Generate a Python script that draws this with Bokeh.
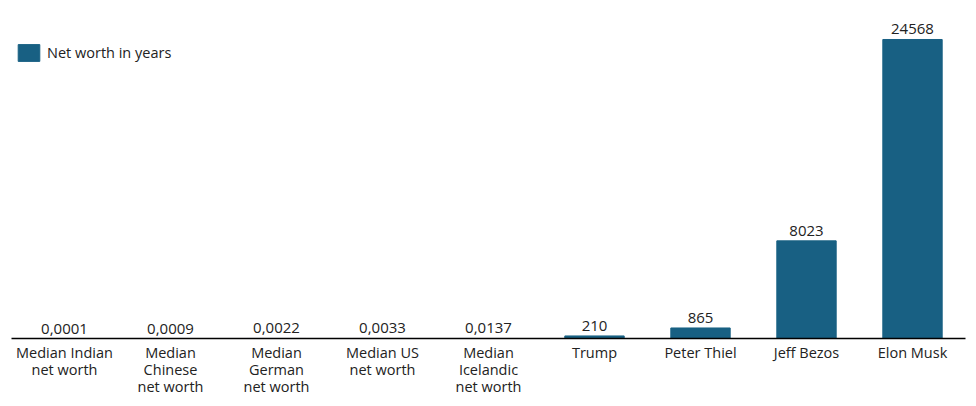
from bokeh.plotting import figure
from bokeh.models import ColumnDataSource, LabelSet, Legend, LegendItem
from bokeh.core.properties import value
from bokeh.embed import file_html
from bokeh.resources import INLINE

categories = ["Median Indian\nnet worth", "Median\nChinese\nnet worth", "Median\nGerman\nnet worth",
              "Median US\nnet worth", "Median\nIcelandic\nnet worth", "Trump", "Peter Thiel",
              "Jeff Bezos", "Elon Musk"]
values = [0.0001, 0.0009, 0.0022, 0.0033, 0.0137, 210, 865, 8023, 24568]
value_labels = ["0,0001", "0,0009", "0,0022", "0,0033", "0,0137", "210", "865", "8023", "24568"]

FONT = "Open Sans"
COLOR = "#186083"

src = ColumnDataSource(dict(x=categories, top=values, lab=value_labels))

p = figure(x_range=categories, y_range=(0, 26293), frame_width=954, frame_height=320,
           output_backend="svg", toolbar_location=None,
           min_border_left=11, min_border_right=3, min_border_top=18, min_border_bottom=0)
r = p.vbar(x="x", top="top", width=0.56, color=COLOR, source=src)

labels = LabelSet(x="x", y="top", text="lab", source=src, text_align="center",
                  text_baseline="bottom", y_offset=5, text_font=value(FONT),
                  text_font_size="15px", text_color="#222222")
p.add_layout(labels)

p.yaxis.visible = False
p.xgrid.visible = False
p.ygrid.visible = False
p.outline_line_color = None
p.xaxis.axis_line_color = "black"
p.xaxis.axis_line_width = 1.5
p.xaxis.major_tick_line_color = None
p.xaxis.minor_tick_line_color = None
p.xaxis.major_tick_out = 0
p.xaxis.major_label_text_font = FONT
p.xaxis.major_label_text_font_size = "14.5px"
p.xaxis.major_label_text_color = "#222222"
p.xaxis.major_label_text_line_height = 0.92
p.xaxis.major_label_standoff = 4

legend = Legend(items=[LegendItem(label="Net worth in years", renderers=[r])],
                location="top_left", border_line_color=None, background_fill_alpha=0,
                label_text_font=FONT, label_text_font_size="14.5px", label_text_color="#222222",
                glyph_width=27, glyph_height=21, padding=0, margin=0, label_standoff=5)
legend.location = (4, 275)
p.add_layout(legend)

open("out.html", "w").write(file_html(p, INLINE))
